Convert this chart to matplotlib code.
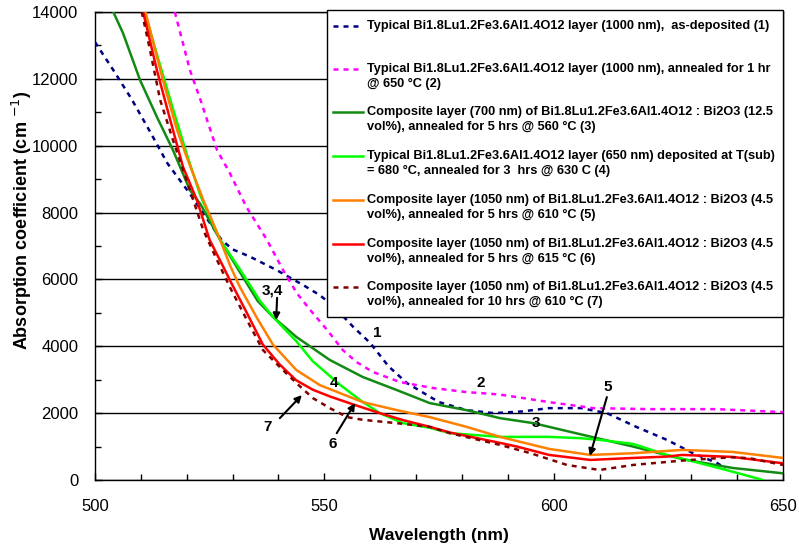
import matplotlib
matplotlib.use("Agg")
import matplotlib.pyplot as plt
from matplotlib.ticker import MultipleLocator
from matplotlib.patches import Rectangle
from matplotlib.lines import Line2D

plt.rcParams['font.family'] = ['Liberation Sans', 'DejaVu Sans']

# ---------------- data ----------------
wl1 = [500, 504, 508, 512, 515.8, 520.6, 524, 527.6, 530, 533.8, 539.6, 545.4, 549, 552,
       556.3, 560, 564, 568, 575, 581, 587, 593, 599, 606, 611.6, 618, 624.7, 630.4, 635.6, 637.5]
a1 = [13100, 12260, 11390, 10420, 9470, 8580, 7900, 7180, 6900, 6680, 6280, 5830, 5530, 5200,
      4580, 4100, 3400, 2900, 2330, 2090, 2000, 2050, 2150, 2150, 2000, 1590, 1200, 800, 510, 350]

wl2 = [517.4, 520.7, 523, 526.6, 529.4, 533, 537.5, 541, 544, 546.9, 550.6, 554, 557, 560.6,
       566.5, 573.7, 581, 588, 592, 599, 608.6, 621, 635.6, 650]
a2 = [14000, 12260, 11370, 9870, 9180, 8170, 7180, 6280, 5590, 5090, 4490, 3890, 3530, 3230,
      2930, 2750, 2630, 2560, 2480, 2330, 2150, 2120, 2120, 2030]

wl3 = [504, 506.1, 509.8, 513.5, 517, 520.7, 523, 527, 531, 535.5, 538.8, 543.9, 551.2, 558.4,
       565.8, 573, 581, 588.3, 595.6, 606.4, 617.3, 628.2, 639, 650]
a3 = [14000, 13370, 11970, 10860, 9870, 8670, 8250, 7250, 6350, 5350, 4880, 4280, 3590, 3080,
      2690, 2300, 2090, 1850, 1700, 1350, 1000, 620, 360, 200]

wl4 = [510.8, 514, 517, 520, 523, 527.3, 531.6, 536, 538.8, 543.9, 547.5, 553.4, 557.8, 562.1,
       567.2, 573, 577.4, 588.3, 599, 606, 610, 617.3, 624.7, 632, 639, 645.6]
a4 = [14000, 12500, 11100, 9750, 8500, 7180, 6300, 5350, 4880, 4150, 3550, 2850, 2390, 2000,
      1700, 1560, 1400, 1290, 1290, 1250, 1200, 1080, 750, 500, 250, 0]

wl5 = [511, 514.8, 517.9, 520, 523.6, 527.3, 529.5, 531.6, 535.3, 538.8, 543.9, 549, 553.4,
       558.4, 565.8, 573, 581, 588.3, 599, 608, 617.3, 628, 639, 650]
a5 = [14000, 11970, 10470, 9660, 8380, 7180, 6400, 5770, 4850, 4050, 3290, 2840, 2600,
      2330, 2090, 1880, 1590, 1290, 930, 750, 800, 900, 840, 660]

wl6 = [510.5, 513.5, 516.4, 519.2, 522.2, 525, 528, 529.4, 533.1, 536.6, 540.3, 543.9, 547.5,
       551.2, 556.3, 562.1, 567.2, 573, 577.4, 588.3, 592, 599, 608, 617.3, 624.7, 628, 639, 650]
a6 = [14000, 12260, 10770, 9360, 8380, 7180, 6370, 5980, 5000, 4050, 3450, 2980, 2700,
      2500, 2260, 2000, 1790, 1590, 1420, 1110, 1000, 750, 600, 660, 700, 750, 690, 500]

wl7 = [510.2, 512, 514.2, 517, 520.7, 523.6, 526.6, 529.4, 533.1, 536.6, 540.3, 543.9, 547.5,
       551.2, 555, 558.4, 565.8, 573, 577.4, 588.3, 595, 602.9, 610, 617.3, 628, 632, 639, 642.8, 650]
a7 = [14000, 12860, 11370, 10170, 8670, 7480, 6580, 5770, 4790, 3890, 3380, 2900, 2450,
      2150, 1880, 1800, 1700, 1590, 1400, 1050, 800, 450, 300, 450, 580, 620, 680, 650, 450]

labels = [
    "Typical Bi1.8Lu1.2Fe3.6Al1.4O12 layer (1000 nm),  as-deposited (1)",
    "Typical Bi1.8Lu1.2Fe3.6Al1.4O12 layer (1000 nm), annealed for 1 hr\n@ 650 \u00b0C (2)",
    "Composite layer (700 nm) of Bi1.8Lu1.2Fe3.6Al1.4O12 : Bi2O3 (12.5\nvol%), annealed for 5 hrs @ 560 \u00b0C (3)",
    "Typical Bi1.8Lu1.2Fe3.6Al1.4O12 layer (650 nm) deposited at T(sub)\n= 680 \u00b0C, annealed for 3  hrs @ 630 C (4)",
    "Composite layer (1050 nm) of Bi1.8Lu1.2Fe3.6Al1.4O12 : Bi2O3 (4.5\nvol%), annealed for 5 hrs @ 610 \u00b0C (5)",
    "Composite layer (1050 nm) of Bi1.8Lu1.2Fe3.6Al1.4O12 : Bi2O3 (4.5\nvol%), annealed for 5 hrs @ 615 \u00b0C (6)",
    "Composite layer (1050 nm) of Bi1.8Lu1.2Fe3.6Al1.4O12 : Bi2O3 (4.5\nvol%), annealed for 10 hrs @ 610 \u00b0C (7)",
]

# annotations: (text, text position, arrow tail, arrow tip)
annot_text = ["1", "2", "3", "3,4", "4", "5", "6", "7"]
annot_pos = [(561.5, 4400), (584.2, 2900), (596.1, 1700), (538.6, 5680), (552.1, 2900),
             (611.8, 2780), (551.9, 1080), (537.7, 1590)]
arrows = [((539.7, 5450), (539.5, 4780)), ((611.6, 2480), (607.9, 720)),
          ((552.7, 1400), (556.7, 2300)), ((540.3, 1850), (545.1, 2540))]

# ---------------- styling ----------------
series = [
    (wl1, a1, '#000080', (0, (2, 2))),
    (wl2, a2, '#FF00FF', (0, (2, 2))),
    (wl3, a3, '#138A13', '-'),
    (wl4, a4, '#00FF00', '-'),
    (wl5, a5, '#FF8000', '-'),
    (wl6, a6, '#FF0000', '-'),
    (wl7, a7, '#800000', (0, (2, 2))),
]

W, H = 799, 546
fig = plt.figure(figsize=(W / 100, H / 100), dpi=100)
ax = fig.add_axes([95 / W, 1 - 480 / H, (783 - 95) / W, (480 - 12) / H])

for x, y, c, ls in series:
    ax.plot(x, y, color=c, lw=1.8, linestyle=ls, zorder=3)

ax.set_xlim(500, 650)
ax.set_ylim(0, 14000)
ax.xaxis.set_major_locator(MultipleLocator(50))
ax.xaxis.set_minor_locator(MultipleLocator(10))
ax.yaxis.set_major_locator(MultipleLocator(2000))
ax.yaxis.set_minor_locator(MultipleLocator(1000))
ax.grid(axis='y', which='major', color='black', lw=1.0, zorder=1)
ax.tick_params(which='both', direction='in', color='black', width=1)
ax.tick_params(which='major', length=5, labelsize=12)
ax.tick_params(which='minor', length=4)
ax.tick_params(axis='y', which='major', pad=12)
ax.tick_params(axis='x', which='major', pad=13.5)
for s in ax.spines.values():
    s.set_color('black')
    s.set_linewidth(1.0)

ax.set_xlabel("Wavelength (nm)", fontsize=12.5, fontweight='bold', labelpad=10)
ax.set_ylabel("Absorption coefficient (cm $^{-1}$)", fontsize=13, fontweight='bold')
ax.yaxis.set_label_coords((34 - 95) / 688, (480 - 220) / 468)

for t, (px, py) in zip(annot_text, annot_pos):
    ax.text(px, py, t, fontsize=11, fontweight='bold', ha='center', va='center', zorder=4)
for tail, tip in arrows:
    ax.annotate('', xy=tip, xytext=tail,
                arrowprops=dict(arrowstyle='-|>', color='black', lw=1.5, mutation_scale=10,
                                shrinkA=0, shrinkB=0), zorder=4)

# ---------------- legend box ----------------
def fx(px):
    return px / W

def fy(py):
    return 1 - py / H

fig.add_artist(Rectangle((fx(327), fy(317)), fx(783) - fx(327), fy(10) - fy(317),
                         transform=fig.transFigure, facecolor='white', edgecolor='black',
                         lw=1.0, zorder=5))

renderer = fig.canvas.get_renderer()
probe = fig.text(0, 0, labels[3].split("\n")[0], fontsize=10, fontweight='bold')
wpx = probe.get_window_extent(renderer).width
probe.remove()
leg_fs = 10 * 411.0 / wpx

entry_y = [26, 69, 112, 156, 200, 244, 287]
for (x, y, c, ls), lab, ey in zip(series, labels, entry_y):
    fig.add_artist(Line2D([fx(333), fx(363)], [fy(ey), fy(ey)], transform=fig.transFigure,
                          color=c, lw=1.8, linestyle=ls, zorder=6))
    for k, line in enumerate(lab.split("\n")):
        fig.text(fx(367), fy(ey + 15 * k), line, fontsize=leg_fs, fontweight='bold',
                 ha='left', va='center', zorder=6)

fig.savefig("out.png", dpi=100)
